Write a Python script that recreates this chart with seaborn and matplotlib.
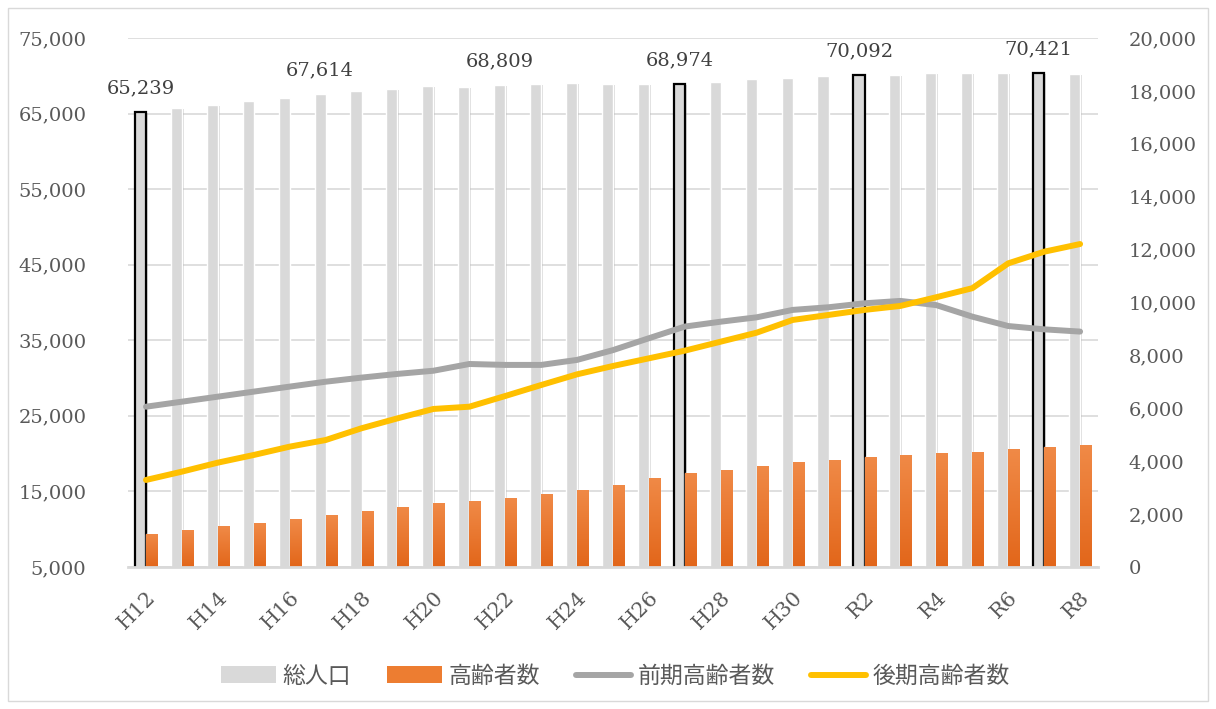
import numpy as np
import pandas as pd
import matplotlib
matplotlib.use("Agg")
import matplotlib.pyplot as plt
import seaborn as sns
from matplotlib.patches import Patch, Rectangle
from matplotlib.lines import Line2D
from matplotlib.colors import LinearSegmentedColormap
from matplotlib import patheffects as pe
from matplotlib.ticker import FuncFormatter

# ---- data -------------------------------------------------------------
years = ["H12", "H13", "H14", "H15", "H16", "H17", "H18", "H19", "H20", "H21",
         "H22", "H23", "H24", "H25", "H26", "H27", "H28", "H29", "H30", "H31",
         "R2", "R3", "R4", "R5", "R6", "R7", "R8"]

total_pop = [65239, 65700, 66140, 66670, 67110, 67614, 67950, 68210, 68650, 68560,
             68809, 68920, 69090, 68870, 68870, 68974, 69130, 69520, 69750, 69980,
             70092, 70110, 70330, 70420, 70330, 70421, 70200]

elderly = [9367, 9900, 10425, 10820, 11350, 11880, 12410, 12940, 13470, 13730,
           14130, 14660, 15190, 15850, 16780, 17440, 17800, 18370, 18900, 19160,
           19560, 19860, 20040, 20180, 20610, 20880, 21140]

early_elderly = [6060, 6250, 6440, 6630, 6820, 7005, 7160, 7300, 7420, 7675,
                 7640, 7640, 7830, 8200, 8650, 9090, 9275, 9440, 9720, 9820,
                 9970, 10060, 9900, 9465, 9110, 8985, 8900]

late_elderly = [3290, 3605, 3945, 4235, 4550, 4800, 5245, 5620, 5975, 6060,
                6465, 6880, 7285, 7600, 7890, 8180, 8520, 8860, 9340, 9530,
                9720, 9870, 10200, 10540, 11480, 11920, 12210]

labeled_years = ["H12", "H17", "H22", "H27", "R2", "R7"]
outlined_years = ["H12", "H27", "R2", "R7"]

series_names = ["総人口", "高齢者数", "前期高齢者数", "後期高齢者数"]

# ---- style ------------------------------------------------------------
sns.set_theme(style="white")
plt.rcParams["font.family"] = ["DejaVu Serif", "Noto Sans CJK JP"]

GRAY_BAR = "#d9d9d9"
ORANGE = "#ed7d31"
GRAY_LINE = "#a5a5a5"
YELLOW = "#ffc000"
TEXT = "#595959"

bars = pd.DataFrame({
    "year": years * 2,
    "value": total_pop + elderly,
    "series": [series_names[0]] * len(years) + [series_names[1]] * len(years),
})

fig = plt.figure(figsize=(12.16, 7.09), dpi=100)
ax = fig.add_axes([0.1053, 0.2003, 0.7977, 0.7461])

sns.barplot(data=bars, x="year", y="value", hue="series", order=years,
            hue_order=series_names[:2], palette=[GRAY_BAR, ORANGE],
            width=0.62, gap=0, saturation=1, legend=False, ax=ax, zorder=2)

ax.set_xlim(-0.5, len(years) - 0.5)
ax.set_ylim(5000, 75000)

gray_patches = ax.containers[0].patches
orange_patches = ax.containers[1].patches

# soft shadow on population bars, outline on highlighted years
for yr, p in zip(years, gray_patches):
    p.set_path_effects([pe.SimplePatchShadow(offset=(1.2, -0.8), shadow_rgbFace="#8c8c8c", alpha=0.3),
                        pe.Normal()])
    if yr in outlined_years:
        p.set_edgecolor("black")
        p.set_linewidth(1.6)

# vertical gradient on elderly bars
cmap = LinearSegmentedColormap.from_list("og", ["#e2661a", "#f08a47"])
grad = np.linspace(0, 1, 256).reshape(-1, 1)
for p in orange_patches:
    x0, w, h = p.get_x(), p.get_width(), p.get_height()
    im = ax.imshow(grad, extent=[x0, x0 + w, 5000, h], origin="lower",
                   aspect="auto", cmap=cmap, zorder=2.1)
    im.set_clip_path(p)
ax.set_xlim(-0.5, len(years) - 0.5)
ax.set_ylim(5000, 75000)

# value labels above selected population bars
for yr, p, v in zip(years, gray_patches, total_pop):
    if yr in labeled_years:
        ax.annotate(f"{v:,}", (p.get_x() + p.get_width() / 2, v),
                    xytext=(0, 17), textcoords="offset points",
                    ha="center", va="center", fontsize=14, color="#404040")

ax.set_yticks(range(5000, 75001, 10000))
ax.yaxis.set_major_formatter(FuncFormatter(lambda v, _: f"{int(v):,}"))
ax.grid(axis="y", color=GRAY_BAR, lw=1.2, zorder=0)
ax.set_axisbelow(True)
ax.set_xticks(range(0, len(years), 2))
ax.set_xticklabels(years[::2], rotation=45, ha="right", va="top",
                   rotation_mode="anchor")
ax.tick_params(axis="x", length=0, pad=15, labelsize=15, labelcolor=TEXT)
ax.tick_params(axis="y", length=0, pad=30, labelsize=14, labelcolor=TEXT)
ax.set_xlabel("")
ax.set_ylabel("")
for s in ["top", "right", "left"]:
    ax.spines[s].set_visible(False)
ax.spines["bottom"].set_color(GRAY_BAR)
ax.spines["bottom"].set_linewidth(2)

# secondary axis: elderly split into 65-74 and 75+
ax2 = ax.twinx()
pos = np.arange(len(years))
lines = pd.DataFrame({
    "pos": np.concatenate([pos, pos]),
    "value": early_elderly + late_elderly,
    "series": [series_names[2]] * len(years) + [series_names[3]] * len(years),
})
sns.lineplot(data=lines, x="pos", y="value", hue="series",
             hue_order=series_names[2:], palette=[GRAY_LINE, YELLOW],
             linewidth=4.3, legend=False, ax=ax2)
for ln in ax2.lines:
    ln.set_solid_capstyle("round")
    ln.set_solid_joinstyle("round")
ax2.set_ylim(0, 20000)
ax2.set_yticks(range(0, 20001, 2000))
ax2.yaxis.set_major_formatter(FuncFormatter(lambda v, _: f"{int(v):,}"))
ax2.tick_params(axis="y", length=0, pad=22, labelsize=14, labelcolor=TEXT)
ax2.set_xlim(-0.5, len(years) - 0.5)
ax2.set_xlabel("")
ax2.set_ylabel("")
for s in ["top", "right", "left", "bottom"]:
    ax2.spines[s].set_visible(False)

# legend
handles = [
    Patch(facecolor=GRAY_BAR, edgecolor="none"),
    Patch(facecolor=ORANGE, edgecolor="none"),
    Line2D([], [], color=GRAY_LINE, lw=4.3, solid_capstyle="round"),
    Line2D([], [], color=YELLOW, lw=4.3, solid_capstyle="round"),
]
fig.legend(handles, series_names, loc="center", bbox_to_anchor=(0.506, 0.0465),
           ncol=4, frameon=False, handlelength=2.4, handletextpad=0.3,
           columnspacing=1.55, prop={"family": ["Noto Sans CJK JP"], "size": 16.5},
           labelcolor=TEXT)

# chart frame
fig.add_artist(Rectangle((0.0066, 0.011), 0.9868, 0.978, transform=fig.transFigure,
                         fill=False, edgecolor=GRAY_BAR, lw=1))

fig.savefig("out.png", dpi=100)
